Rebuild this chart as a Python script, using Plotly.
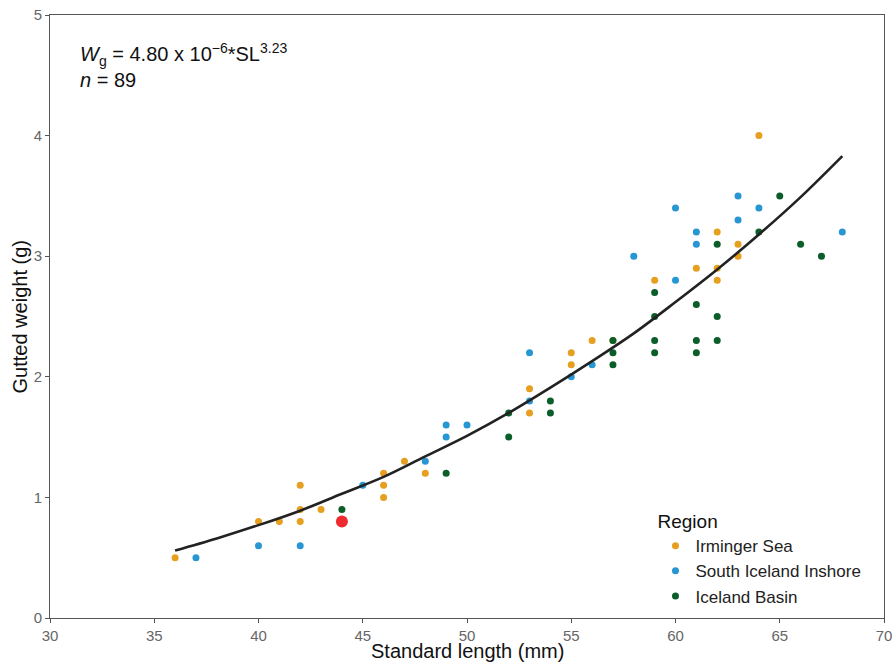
import plotly.graph_objects as go

# Irminger Sea
irm_x = [36, 40, 41, 42, 42, 42, 43, 46, 46, 46, 47, 48, 53, 53, 55, 55, 56, 57, 59, 61, 62, 62, 62, 63, 63, 64]
irm_y = [0.5, 0.8, 0.8, 1.1, 0.9, 0.8, 0.9, 1.2, 1.1, 1.0, 1.3, 1.2, 1.9, 1.7, 2.2, 2.1, 2.3, 2.3, 2.8, 2.9, 3.2, 2.9, 2.8, 3.1, 3.0, 4.0]

# South Iceland Inshore
sii_x = [37, 40, 42, 45, 48, 49, 49, 50, 53, 53, 55, 56, 58, 60, 60, 61, 61, 63, 63, 64, 68]
sii_y = [0.5, 0.6, 0.6, 1.1, 1.3, 1.6, 1.5, 1.6, 2.2, 1.8, 2.0, 2.1, 3.0, 3.4, 2.8, 3.2, 3.1, 3.5, 3.3, 3.4, 3.2]

# Iceland Basin
ib_x = [44, 49, 52, 52, 54, 54, 57, 57, 57, 59, 59, 59, 59, 61, 61, 61, 62, 62, 62, 64, 65, 66, 67]
ib_y = [0.9, 1.2, 1.7, 1.5, 1.8, 1.7, 2.3, 2.2, 2.1, 2.7, 2.5, 2.3, 2.2, 2.6, 2.3, 2.2, 3.1, 2.5, 2.3, 3.2, 3.5, 3.1, 3.0]

# Highlighted specimen
hl_x = [44]
hl_y = [0.8]

# Fitted curve
fit_x = [36, 38, 40, 42, 44, 46, 48, 50, 52, 54, 56, 58, 60, 62, 64, 66, 68]
fit_y = [0.56, 0.66, 0.77, 0.89, 1.03, 1.17, 1.34, 1.51, 1.70, 1.91, 2.13, 2.36, 2.62, 2.89, 3.18, 3.49, 3.83]

x_ticks = [30, 35, 40, 45, 50, 55, 60, 65, 70]
y_ticks = [0, 1, 2, 3, 4, 5]

FONT = "Liberation Sans, Arial, sans-serif"

fig = go.Figure()
fig.add_trace(go.Scatter(x=irm_x, y=irm_y, mode="markers", name="Irminger Sea",
                         marker=dict(color="#E69F1F", size=7)))
fig.add_trace(go.Scatter(x=sii_x, y=sii_y, mode="markers", name="South Iceland Inshore",
                         marker=dict(color="#2796D3", size=7)))
fig.add_trace(go.Scatter(x=ib_x, y=ib_y, mode="markers", name="Iceland Basin",
                         marker=dict(color="#0B5E2A", size=7)))
fig.add_trace(go.Scatter(x=hl_x, y=hl_y, mode="markers", showlegend=False,
                         marker=dict(color="#EE2A2E", size=12)))
fig.add_trace(go.Scatter(x=fit_x, y=fit_y, mode="lines", showlegend=False,
                         line=dict(color="#222222", width=2.6, shape="spline")))

fig.add_annotation(
    xref="paper", yref="paper", x=0.033, y=0.962, xanchor="left", yanchor="top",
    align="left", showarrow=False,
    text="<i>W</i><sub>g</sub> = 4.80 x 10<sup>−6</sup>*SL<sup>3.23</sup><br><i>n</i> = 89",
    font=dict(family=FONT, size=20, color="#111111"),
)

# axis titles as annotations for precise placement
fig.add_annotation(
    xref="paper", yref="paper", x=0.5, y=-0.055, xanchor="center", yanchor="middle",
    showarrow=False, text="Standard length (mm)",
    font=dict(family=FONT, size=20, color="#111111"),
)
fig.add_annotation(
    xref="paper", yref="paper", x=-0.036, y=0.5, xanchor="center", yanchor="middle",
    showarrow=False, text="Gutted weight (g)", textangle=-90,
    font=dict(family=FONT, size=20, color="#111111"),
)

axis_common = dict(
    showgrid=False, zeroline=False, showline=True, linecolor="#555555", linewidth=1,
    mirror=True, ticks="outside", ticklen=4, tickcolor="#555555", automargin=False,
    ticklabeloverflow="allow",
    tickfont=dict(family=FONT, size=15, color="#666666"),
)

fig.update_layout(
    width=895, height=662,
    margin=dict(l=50, r=11, t=15, b=44),
    paper_bgcolor="white", plot_bgcolor="white",
    font=dict(family=FONT),
    xaxis=dict(range=[30, 70], tickvals=x_ticks, **axis_common),
    yaxis=dict(range=[0, 5], tickvals=y_ticks, **axis_common),
    legend=dict(
        x=0.726, y=0.19, xanchor="left", yanchor="top",
        bgcolor="rgba(0,0,0,0)",
        title=dict(text="Region", font=dict(family=FONT, size=19, color="#111111")),
        font=dict(family=FONT, size=17, color="#222222"),
        itemsizing="trace", tracegroupgap=0, itemwidth=30,
    ),
)

# remove the default 8px page margin so the figure sits at the window's corner
fig.write_html("out.html", config={"displayModeBar": False},
               post_script="document.body.style.margin='0';")
